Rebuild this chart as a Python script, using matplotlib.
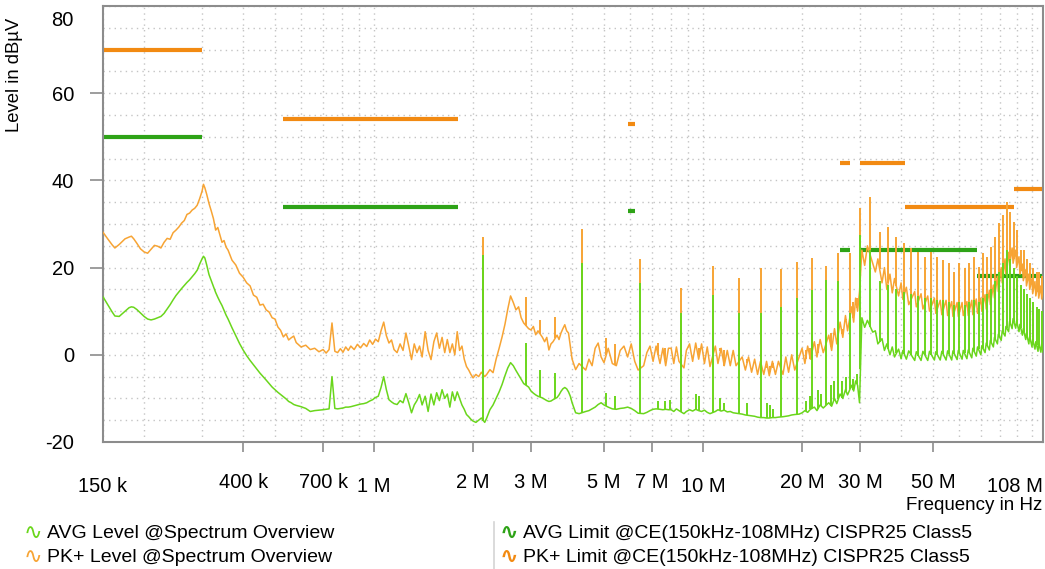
import numpy as np
import matplotlib
matplotlib.use("Agg")
import matplotlib.pyplot as plt
from matplotlib.ticker import LogLocator, MultipleLocator, NullFormatter
from matplotlib.transforms import ScaledTranslation
from matplotlib.lines import Line2D

plt.rcParams['font.family'] = ['Liberation Sans', 'DejaVu Sans']
plt.rcParams['axes.unicode_minus'] = False

# spectrum trace, frequencies in MHz, levels in dBuV
freq_a = [0.150, 0.155, 0.160, 0.163, 0.168, 0.175, 0.180, 0.183, 0.186, 0.190,
          0.195, 0.200, 0.205, 0.210, 0.215, 0.220, 0.225, 0.230, 0.235, 0.240,
          0.245, 0.250, 0.255, 0.260, 0.265, 0.270, 0.275, 0.280, 0.285, 0.290,
          0.295, 0.300, 0.303, 0.306, 0.310, 0.315, 0.320, 0.325, 0.330, 0.335,
          0.340, 0.345, 0.350, 0.355, 0.360, 0.370, 0.380, 0.390, 0.400, 0.410,
          0.420, 0.430, 0.440, 0.450, 0.460, 0.470, 0.480, 0.490, 0.500, 0.510,
          0.520, 0.530, 0.540, 0.550, 0.560, 0.570, 0.580, 0.600, 0.620, 0.640,
          0.660, 0.680, 0.700]
pk_a = [28.1, 26.6, 25.2, 24.5, 25.3, 26.6, 27.0, 27.2, 26.6, 25.6,
        24.3, 23.6, 23.3, 24.2, 25.1, 24.9, 24.5, 25.8, 26.7, 26.5,
        28.0, 28.6, 29.3, 30.2, 30.8, 32.2, 32.5, 33.2, 33.6, 34.3,
        35.8, 37.5, 39.1, 38.3, 36.8, 34.7, 33.0, 31.2, 28.6, 29.2,
        27.5, 25.8, 26.2, 24.7, 24.0, 21.7, 20.6, 18.7, 17.8, 16.5,
        15.8, 13.7, 13.2, 11.4, 11.6, 10.3, 9.8, 8.5, 8.2, 6.4,
        5.6, 4.1, 4.8, 3.4, 3.9, 4.3, 2.8, 1.8, 2.2, 1.2,
        1.5, 0.7, 1.2]
avg_a = [13.3, 11.5, 9.8, 8.9, 8.8, 10.0, 10.8, 11.0, 10.9, 10.4,
         9.6, 8.8, 8.2, 8.0, 8.2, 8.5, 8.8, 9.5, 10.5, 11.5,
         12.6, 13.6, 14.4, 15.2, 15.9, 16.6, 17.2, 17.9, 18.6, 19.4,
         20.8, 22.0, 22.6, 22.2, 20.6, 18.4, 17.0, 15.6, 14.3, 13.2,
         12.2, 11.3, 10.2, 9.1, 8.2, 6.2, 4.4, 2.6, 1.1, -0.2,
         -1.3, -2.3, -3.3, -4.2, -5.0, -5.8, -6.6, -7.4, -8.0, -8.6,
         -9.1, -9.6, -10.1, -10.7, -11.0, -11.4, -11.6, -11.9, -12.3, -13.0,
         -12.8, -12.7, -12.6]

freq_b = [0.715, 0.730, 0.745, 0.760, 0.775, 0.790, 0.805, 0.820, 0.835, 0.850,
          0.870, 0.890, 0.910, 0.930, 0.950, 0.970, 0.990, 1.010, 1.030, 1.050,
          1.070, 1.090, 1.110, 1.130, 1.150, 1.175, 1.200, 1.225, 1.250, 1.275,
          1.300, 1.325, 1.350, 1.375, 1.400, 1.430, 1.460, 1.490, 1.520, 1.550,
          1.580, 1.610, 1.640, 1.670, 1.700, 1.730, 1.760, 1.790, 1.820, 1.850,
          1.880, 1.910, 1.940, 1.970, 2.000, 2.040, 2.080, 2.120, 2.170, 2.200]
pk_b = [0.4, 1.2, 7.3, 0.8, 0.5, 1.4, 0.6, 1.8, 1.0, 2.0,
        1.2, 2.4, 1.6, 2.6, 1.9, 3.4, 2.4, 3.6, 3.0, 5.5,
        7.5, 4.4, 2.7, 3.4, 1.2, 0.5, 2.5, 1.0, 5.0, 2.0,
        -1.1, 2.5, 0.5, 2.0, -0.5, 5.3, 1.0, -1.1, 3.0, 5.0,
        1.5, 4.0, 0.5, 3.5, 0.5, 2.5, 0.0, 5.3, 1.0, 2.0,
        -1.0, -2.7, -3.5, -4.5, -5.3, -4.5, -5.0, -4.0, -5.0, -4.5]
avg_b = [-12.5, -12.4, -5.0, -12.3, -12.4, -12.3, -12.2, -12.0, -12.0, -11.9,
         -11.7, -11.5, -11.3, -11.2, -11.0, -10.6, -10.3, -9.8, -9.5, -7.5,
         -5.0, -8.0, -10.3, -10.8, -11.2, -11.4, -10.5, -11.0, -8.9, -11.0,
         -13.3, -11.5, -10.5, -9.1, -11.5, -9.5, -13.0, -9.0, -11.5, -8.7,
         -10.5, -8.0, -10.0, -9.0, -12.0, -8.5, -10.5, -8.5, -10.0, -11.5,
         -12.5, -13.7, -14.2, -14.8, -15.2, -15.5, -15.0, -14.5, -15.5, -14.5]

freq_c1 = [2.25, 2.30, 2.35, 2.40, 2.45, 2.50, 2.55, 2.60, 2.65, 2.70,
           2.75, 2.80, 2.85, 2.95, 3.00, 3.05, 3.10, 3.15, 3.25, 3.30,
           3.35, 3.40, 3.45, 3.50, 3.60, 3.65, 3.70, 3.75, 3.80, 3.85,
           3.90, 3.95, 4.00, 4.10, 4.20, 4.40, 4.50, 4.60, 4.70, 4.80,
           4.90, 5.00, 5.15, 5.30, 5.45, 5.60, 5.75, 5.90, 6.05, 6.20,
           6.35, 6.60, 6.75, 6.90, 7.05, 7.20, 7.40, 7.55, 7.70, 7.85]
pk_c1 = [-3.4, -4.1, -1.0, 1.5, 4.1, 7.0, 10.5, 13.5, 12.0, 10.3,
         11.0, 8.5, 7.3, 6.0, 5.7, 6.5, 4.6, 5.5, 4.0, 3.0,
         4.0, 1.1, 2.5, 3.0, 4.5, 3.5, 5.0, 6.0, 6.9, 5.5,
         5.0, 2.0, -1.0, -3.4, -2.0, -3.5, -1.0, -2.5, 1.5, 2.7,
         -0.5, -1.8, 1.5, -2.0, -2.5, 1.0, 2.0, -0.5, 2.5, -1.5,
         -3.5, -2.5, 0.5, 2.0, -1.5, 2.0, -2.0, 1.5, -2.5, 1.5]
avg_c1 = [-12.6, -11.5, -10.0, -8.5, -6.8, -4.8, -3.0, -1.8, -2.5, -3.6,
          -4.6, -5.6, -6.6, -7.4, -8.3, -8.8, -9.2, -9.5, -9.9, -10.2,
          -10.5, -10.7, -10.6, -10.3, -9.8, -9.2, -8.4, -7.8, -7.5, -7.8,
          -8.5, -9.5, -11.0, -13.3, -13.5, -13.0, -12.8, -12.4, -12.0, -11.4,
          -11.0, -11.5, -12.0, -12.4, -12.5, -12.3, -12.2, -12.0, -12.3, -12.8,
          -13.4, -13.5, -13.2, -12.8, -12.5, -12.4, -12.5, -12.6, -12.5, -12.6]

freq_c2 = [8.0, 8.15, 8.3, 8.45, 8.75, 8.9, 9.1, 9.3, 9.5, 9.7,
           9.9, 10.1, 10.3, 10.5, 10.9, 11.1, 11.35, 11.6, 11.85, 12.1,
           12.35, 12.6, 13.15, 13.45, 13.75, 14.05, 14.35, 14.65, 14.95, 15.3,
           15.6, 15.9, 16.25, 16.6, 16.95, 17.5, 17.85, 18.2, 18.6, 19.0,
           19.6, 20.0, 20.4, 20.8, 21.2, 21.8, 22.2, 22.7, 23.2, 24.1,
           24.6, 25.1, 25.5, 26.1, 26.6, 27.1, 27.5, 28.3, 28.7, 29.1,
           29.5, 29.9]
pk_c2 = [1.5, -2.0, 1.8, -1.5, -3.0, 1.0, 2.5, -1.5, 2.7, -1.0,
         2.5, -2.0, 1.8, -2.7, 2.0, -2.0, 1.5, -2.5, 1.0, -2.5,
         1.0, -2.5, -0.5, -3.5, -0.5, -4.0, -1.0, -4.5, -1.5, -4.5,
         -1.5, -4.8, -1.5, -4.5, -1.5, -4.5, -0.5, -4.0, 0.0, -3.5,
         -0.5, 1.5, -2.0, 2.0, -1.0, 3.0, -0.5, 3.5, 0.5, 4.5,
         1.0, 6.0, 2.5, 7.5, 4.0, 9.0, 5.5, 11.0, 7.5, 13.0,
         10.0, 14.5]
avg_c2 = [-12.6, -13.0, -12.4, -12.8, -13.5, -13.0, -12.6, -12.9, -12.5, -12.8,
          -13.0, -12.7, -13.2, -13.5, -13.0, -12.6, -12.9, -12.7, -13.1, -13.0,
          -13.3, -13.4, -13.6, -13.8, -13.9, -14.0, -14.1, -14.3, -14.4, -14.4,
          -14.5, -14.5, -14.4, -14.4, -14.3, -14.2, -14.1, -14.0, -13.8, -13.7,
          -13.6, -13.3, -12.8, -13.2, -12.5, -12.0, -12.8, -11.5, -12.2, -11.0,
          -11.8, -10.0, -11.2, -9.0, -10.0, -8.0, -9.2, -7.0, -8.3, -6.0,
          -7.0, -11.0]

freq_d = [30.4, 31.0, 31.6, 32.8, 33.4, 34.0, 35.0, 35.6, 36.2, 37.0,
          37.6, 38.2, 39.3, 40.0, 40.5, 41.5, 42.2, 44.0, 44.5, 46.0,
          46.6, 48.2, 48.8, 50.5, 51.0, 52.6, 53.2, 54.8, 55.4, 57.0,
          57.5, 59.2, 59.7, 61.3, 61.8, 63.4, 64.0, 65.6, 66.1, 67.7,
          68.3, 69.9, 70.4, 72.0, 72.6, 74.2, 74.7, 76.3, 76.9, 78.5,
          79.0, 80.6, 81.2, 82.8, 83.3, 84.9, 85.5, 87.0, 87.6, 89.2,
          89.8, 91.3, 91.9, 93.5, 94.1, 95.7, 96.2, 97.8, 98.4, 100.0,
          100.5, 102.1, 102.7, 104.3, 104.8, 106.4, 107.0, 108.0]
pk_d = [24.0, 20.5, 25.0, 21.0, 19.0, 22.0, 16.5, 20.0, 15.0, 18.5,
        14.2, 17.5, 13.5, 16.5, 12.7, 15.5, 11.5, 14.5, 11.0, 14.0,
        10.5, 13.5, 10.0, 13.0, 9.5, 12.5, 9.2, 12.5, 9.0, 12.2,
        8.8, 12.0, 8.8, 12.0, 9.0, 12.2, 9.0, 12.5, 9.2, 12.8,
        9.5, 13.0, 10.0, 13.8, 10.5, 14.8, 11.5, 16.0, 13.0, 18.0,
        14.5, 20.0, 16.5, 22.0, 18.5, 23.5, 20.5, 24.5, 21.0, 24.0,
        20.0, 22.5, 18.5, 20.8, 17.0, 19.5, 15.8, 18.5, 15.0, 17.5,
        14.0, 16.8, 13.5, 16.2, 13.0, 15.8, 12.8, 14.5]
avg_d = [8.5, 6.3, 7.9, 5.2, 5.5, 2.5, 3.7, 1.0, 2.5, 0.0,
         1.8, -0.5, 1.3, -0.9, 1.0, -1.0, 0.9, -1.3, 0.7, -1.3,
         0.8, -1.3, 0.8, -1.2, 0.7, -1.2, 0.8, -1.2, 0.9, -1.2,
         0.9, -1.1, 1.0, -1.0, 1.0, -0.9, 1.1, -0.7, 1.5, -0.3,
         1.8, 0.0, 2.1, 0.5, 2.7, 1.1, 3.3, 1.8, 4.0, 2.5,
         4.7, 3.3, 5.5, 4.3, 6.5, 5.3, 7.7, 6.0, 8.3, 6.1,
         7.8, 5.3, 7.0, 4.5, 6.0, 3.5, 5.0, 2.5, 4.2, 1.8,
         3.5, 1.3, 3.0, 0.8, 2.7, 0.6, 2.5, 0.6]

# narrow harmonic spikes (MHz, PK tip, AVG tip)
comb_mhz = [2.15, 4.30, 6.45, 8.60, 10.75, 12.90, 15.05, 17.20, 19.35, 21.50,
            23.65, 25.80, 27.95, 30.10, 32.25, 34.40, 36.55, 38.70, 40.85, 43.00,
            45.15, 47.30, 49.45, 51.60, 53.75, 55.90, 58.05, 60.20, 62.35, 64.50,
            66.65, 68.80, 70.95, 73.10, 75.25, 77.40, 79.55, 81.70, 83.85, 86.00,
            88.15, 90.30, 92.45, 94.60, 96.75, 98.90, 101.05, 103.20, 105.35, 107.50]
comb_pk = [27.0, 28.8, 21.9, 15.3, 20.3, 17.6, 19.9, 19.7, 21.3, 22.2,
           20.3, 23.3, 23.3, 33.6, 36.3, 28.1, 29.3, 27.0, 25.6, 24.5,
           23.6, 22.4, 23.6, 22.4, 21.7, 21.0, 19.0, 21.0, 19.9, 21.0,
           22.4, 20.2, 23.3, 22.4, 24.7, 27.0, 30.2, 32.0, 35.0, 32.7,
           30.4, 28.6, 24.0, 24.0, 22.0, 21.0, 20.0, 19.0, 19.0, 18.0]
comb_avg = [23.0, 21.0, 16.5, 9.6, 13.7, 9.6, 9.6, 11.0, 13.0, 14.9,
            17.1, 17.0, 9.6, 27.4, 24.0, 17.0, 16.0, 15.0, 14.5, 14.0,
            13.5, 13.0, 13.0, 12.5, 12.5, 12.0, 11.5, 12.0, 11.5, 12.0,
            12.5, 12.0, 13.0, 14.0, 15.0, 17.0, 19.0, 21.0, 24.0, 22.0,
            20.0, 18.0, 16.0, 15.0, 14.0, 13.0, 12.0, 11.0, 10.5, 10.0]

extra_mhz = [2.90, 3.20, 3.55, 5.08, 5.40, 7.30, 7.65, 7.95, 9.55, 9.75,
             11.3, 11.6, 13.6, 15.7, 16.0, 16.3, 20.5, 21.2, 22.3, 22.8,
             24.5, 25.0, 26.5, 27.2, 28.6, 29.4]
extra_pk = [13.3, 8.0, 8.7, 3.9, 2.5, 2.7, 1.5, 1.5, 1.5, 1.5,
            1.5, 1.0, -1.0, -3.0, -2.5, -3.0, 1.0, 1.5, 2.5, 3.0,
            5.0, 4.5, 6.0, 8.0, 12.0, 13.0]
extra_avg = [2.7, -3.4, -4.1, -8.7, -9.5, -10.5, -10.5, -10.3, -9.0, -9.5,
             -10.0, -11.0, -11.0, -11.0, -11.5, -12.5, -10.5, -9.5, -8.0, -9.0,
             -7.0, -6.0, -6.0, -5.0, -5.5, -4.5]

# CISPR25 class 5 limit segments (start MHz, stop MHz, level dBuV)
pk_lim_start = [0.15, 0.53, 5.9, 26, 30, 41, 88]
pk_lim_stop = [0.30, 1.8, 6.2, 28, 41, 88, 108]
pk_lim_level = [70, 54, 53, 44, 44, 34, 38]
avg_lim_start = [0.15, 0.53, 5.9, 26, 30, 68]
avg_lim_stop = [0.30, 1.8, 6.2, 28, 68, 108]
avg_lim_level = [50, 34, 33, 24, 24, 18]

tick_mhz = [0.15, 0.4, 0.7, 1, 2, 3, 5, 7, 10, 20, 30, 50, 108]
tick_text = ["150 k", "400 k", "700 k", "1 M", "2 M", "3 M", "5 M", "7 M",
             "10 M", "20 M", "30 M", "50 M", "108 M"]

PK_TRACE = '#f7a434'
AVG_TRACE = '#6ad61c'
PK_LIM = '#f28a12'
AVG_LIM = '#2ea317'
GREY = '#8c8c8c'

freq = np.array(freq_a + freq_b + freq_c1 + freq_c2 + freq_d) * 1e6
pk = np.array(pk_a + pk_b + pk_c1 + pk_c2 + pk_d)
avg = np.array(avg_a + avg_b + avg_c1 + avg_c2 + avg_d)
assert len(freq) == len(pk) == len(avg)

spike_f = np.array(comb_mhz + extra_mhz) * 1e6
spike_pk = np.array(comb_pk + extra_pk)
spike_avg = np.array(comb_avg + extra_avg)
base_pk = np.interp(np.log10(spike_f), np.log10(freq), pk)
base_avg = np.interp(np.log10(spike_f), np.log10(freq), avg)

fig = plt.figure(figsize=(10.45, 5.69), dpi=100)
ax = fig.add_axes([103 / 1045, 1 - 442 / 569, 940 / 1045, 436 / 569])

ax.hlines(pk_lim_level, np.array(pk_lim_start) * 1e6, np.array(pk_lim_stop) * 1e6,
          colors=PK_LIM, lw=3, zorder=2)
ax.hlines(avg_lim_level, np.array(avg_lim_start) * 1e6, np.array(avg_lim_stop) * 1e6,
          colors=AVG_LIM, lw=3, zorder=2)

ax.plot(freq, pk, color=PK_TRACE, lw=1.1, zorder=3)
ax.vlines(spike_f, np.minimum(base_pk, spike_pk), np.maximum(base_pk, spike_pk),
          colors=PK_TRACE, lw=1.4, zorder=3)
ax.plot(freq, avg, color=AVG_TRACE, lw=1.1, zorder=4)
ax.vlines(spike_f, np.minimum(base_avg, spike_avg), np.maximum(base_avg, spike_avg),
          colors=AVG_TRACE, lw=1.4, zorder=4)

ax.set_xscale('log')
ax.set_xlim(150e3, 108e6)
ax.set_ylim(-20, 80)
ax.set_xticks(np.array(tick_mhz) * 1e6, tick_text)
ax.xaxis.set_minor_locator(LogLocator(base=10, subs=np.arange(1, 10), numticks=50))
ax.xaxis.set_minor_formatter(NullFormatter())
ax.set_yticks(range(-20, 81, 20))
ax.yaxis.set_minor_locator(MultipleLocator(5))

ax.tick_params(which='minor', length=0)
ax.tick_params(axis='x', which='major', length=7.5, width=1.2, color=GREY,
               pad=15, labelsize=14.5)
ax.tick_params(axis='y', which='major', length=9.4, width=1.2, color=GREY,
               pad=11.5, labelsize=14.5)
ax.grid(which='both', color='#c4c4c4', linestyle=(0, (1, 3)), linewidth=1.0)
ax.set_axisbelow(True)
for s in ax.spines.values():
    s.set_color(GREY)
    s.set_linewidth(1.5)

xt = ax.xaxis.get_major_ticks()
yt = ax.yaxis.get_major_ticks()
for t in (xt[0], xt[-1], yt[0], yt[-1]):
    t.tick1line.set_visible(False)
down = ScaledTranslation(0, -4 / 100, fig.dpi_scale_trans)
for i in (0, 3, 8, 12):
    xt[i].label1.set_transform(xt[i].label1.get_transform() + down)
xt[-1].label1.set_horizontalalignment('right')
yt[-1].label1.set_transform(yt[-1].label1.get_transform()
                            + ScaledTranslation(0, -12 / 100, fig.dpi_scale_trans))

fig.text(15 / 1045, 1 - 75 / 569, 'Level in dBµV', rotation=90, fontsize=13.3,
         ha='center', va='center')
fig.text(1042 / 1045, 1 - 506 / 569, 'Frequency in Hz', fontsize=13.5,
         ha='right', va='center')

# legend
rows = [1 - 533 / 569, 1 - 557 / 569]
fig.text(24 / 1045, rows[0], '∿', color=AVG_TRACE, fontsize=16, ha='left', va='center',
         family=['DejaVu Sans'])
fig.text(24 / 1045, rows[1], '∿', color=PK_TRACE, fontsize=16, ha='left', va='center',
         family=['DejaVu Sans'])
fig.text(47 / 1045, rows[0], 'AVG Level @Spectrum Overview', fontsize=14, va='center')
fig.text(47 / 1045, rows[1], 'PK+ Level @Spectrum Overview', fontsize=14, va='center')
fig.text(500 / 1045, rows[0], '∿', color=AVG_LIM, fontsize=16, ha='left', va='center',
         fontweight='bold', family=['DejaVu Sans'])
fig.text(500 / 1045, rows[1], '∿', color=PK_LIM, fontsize=16, ha='left', va='center',
         fontweight='bold', family=['DejaVu Sans'])
fig.text(523 / 1045, rows[0], 'AVG Limit @CE(150kHz-108MHz) CISPR25 Class5', fontsize=14,
         va='center')
fig.text(523 / 1045, rows[1], 'PK+ Limit @CE(150kHz-108MHz) CISPR25 Class5', fontsize=14,
         va='center')
fig.add_artist(Line2D([494 / 1045, 494 / 1045], [0, 1 - 522 / 569],
                      transform=fig.transFigure, color='#d4d4d4', lw=1.2))

fig.savefig('out.png', dpi=100)
